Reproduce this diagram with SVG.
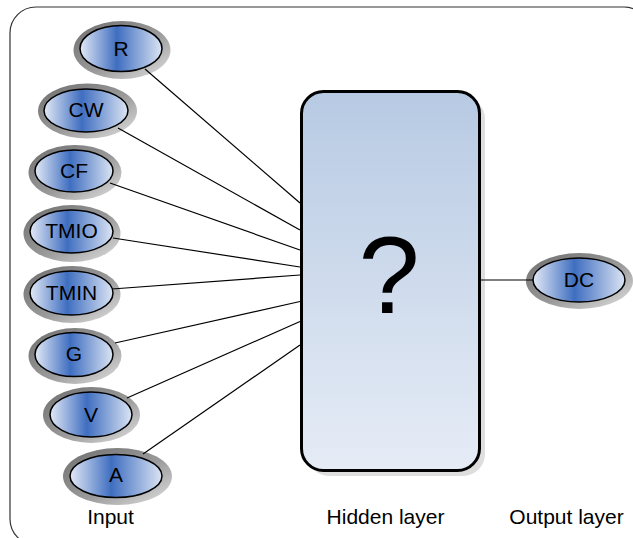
<svg xmlns="http://www.w3.org/2000/svg" width="633" height="538" viewBox="0 0 633 538">
  <defs>
    <linearGradient id="blueFill" x1="0" y1="0" x2="1" y2="0">
      <stop offset="0" stop-color="#e2e9f6"/>
      <stop offset="0.45" stop-color="#3f6ec0"/>
      <stop offset="1" stop-color="#dbe4f3"/>
    </linearGradient>
    <linearGradient id="ringFill" x1="0" y1="0" x2="1" y2="1">
      <stop offset="0" stop-color="#6e6e6e"/>
      <stop offset="0.55" stop-color="#9a9a9a"/>
      <stop offset="1" stop-color="#e2e2e2"/>
    </linearGradient>
    <linearGradient id="boxFill" x1="0" y1="0" x2="0" y2="1">
      <stop offset="0" stop-color="#b7cae3"/>
      <stop offset="1" stop-color="#e6ecf6"/>
    </linearGradient>
  </defs>
  <style>
    .ring { fill: url(#ringFill); }
    .core { fill: url(#blueFill); stroke: #000; stroke-width: 1.5; }
    .lbl { font-family: "Liberation Sans", Arial, sans-serif; font-size: 21px; fill: #000; text-anchor: middle; }
    .edge { stroke: #000; stroke-width: 1.2; fill: none; }
  </style>

  <rect x="0" y="0" width="633" height="538" fill="#fff"/>

  <!-- outer frame -->
  <rect x="10" y="7" width="640" height="538" rx="26" fill="none" stroke="#333" stroke-width="1.2"/>

  <!-- hidden layer box -->
  <g id="hidden">
    <rect x="307" y="97" width="178" height="379" rx="22" fill="#dedede"/>
    <rect x="301.5" y="91.5" width="178" height="379" rx="22" fill="url(#boxFill)" stroke="#000" stroke-width="3"/>
    <text x="389" y="313" font-family="'Liberation Sans', Arial, sans-serif" font-size="110" text-anchor="middle" fill="#000">?</text>
  </g>

  <!-- input nodes -->
  <g id="node-R">
    <ellipse class="ring" cx="122" cy="50" rx="48.5" ry="29"/>
    <ellipse class="core" cx="121" cy="48.5" rx="41" ry="23"/>
    <text class="lbl" x="121" y="55.5">R</text>
  </g>
  <g id="node-CW">
    <ellipse class="ring" cx="87.5" cy="111" rx="49.5" ry="27.5"/>
    <ellipse class="core" cx="86" cy="110.5" rx="42" ry="21.5"/>
    <text class="lbl" x="86" y="117">CW</text>
  </g>
  <g id="node-CF">
    <ellipse class="ring" cx="75" cy="172.5" rx="46.5" ry="27.5"/>
    <ellipse class="core" cx="74" cy="171" rx="39" ry="21"/>
    <text class="lbl" x="74" y="177.5">CF</text>
  </g>
  <g id="node-TMIO">
    <ellipse class="ring" cx="72" cy="233.5" rx="48.5" ry="28.5"/>
    <ellipse class="core" cx="71.5" cy="231.5" rx="41.5" ry="21.5"/>
    <text class="lbl" x="71.5" y="238">TMIO</text>
  </g>
  <g id="node-TMIN">
    <ellipse class="ring" cx="72" cy="294.5" rx="48.5" ry="28.5"/>
    <ellipse class="core" cx="71.5" cy="293" rx="41.5" ry="22"/>
    <text class="lbl" x="71.5" y="299.5">TMIN</text>
  </g>
  <g id="node-G">
    <ellipse class="ring" cx="75" cy="356" rx="46.5" ry="28"/>
    <ellipse class="core" cx="74" cy="354.5" rx="39" ry="22"/>
    <text class="lbl" x="74" y="361">G</text>
  </g>
  <g id="node-V">
    <ellipse class="ring" cx="91.5" cy="415" rx="48.5" ry="28"/>
    <ellipse class="core" cx="91" cy="414.5" rx="41" ry="22.5"/>
    <text class="lbl" x="91" y="421.5">V</text>
  </g>
  <g id="node-A">
    <ellipse class="ring" cx="117.5" cy="476.5" rx="54.5" ry="28.5"/>
    <ellipse class="core" cx="116" cy="476" rx="46" ry="21.5"/>
    <text class="lbl" x="116" y="482">A</text>
  </g>

  <!-- output node -->
  <g id="node-DC">
    <ellipse class="ring" cx="579.5" cy="281" rx="53.5" ry="28"/>
    <ellipse class="core" cx="579" cy="280" rx="46" ry="22"/>
    <text class="lbl" x="579" y="286.5">DC</text>
  </g>

  <!-- connectors -->
  <g id="connectors">
    <line class="edge" x1="145" y1="69" x2="300" y2="203"/>
    <line class="edge" x1="118" y1="128" x2="300" y2="230"/>
    <line class="edge" x1="110" y1="183" x2="300" y2="250"/>
    <line class="edge" x1="113" y1="238" x2="300" y2="267"/>
    <line class="edge" x1="112" y1="289" x2="300" y2="275"/>
    <line class="edge" x1="115" y1="343" x2="300" y2="301.5"/>
    <line class="edge" x1="127" y1="398" x2="300" y2="321.5"/>
    <line class="edge" x1="143" y1="454" x2="300" y2="345"/>
    <line class="edge" x1="481" y1="280" x2="533" y2="280"/>
  </g>

  <!-- layer captions -->
  <g id="captions">
    <text class="lbl" x="110.5" y="523.5">Input</text>
    <text class="lbl" x="385.5" y="524">Hidden layer</text>
    <text class="lbl" x="566.5" y="524">Output layer</text>
  </g>
</svg>
